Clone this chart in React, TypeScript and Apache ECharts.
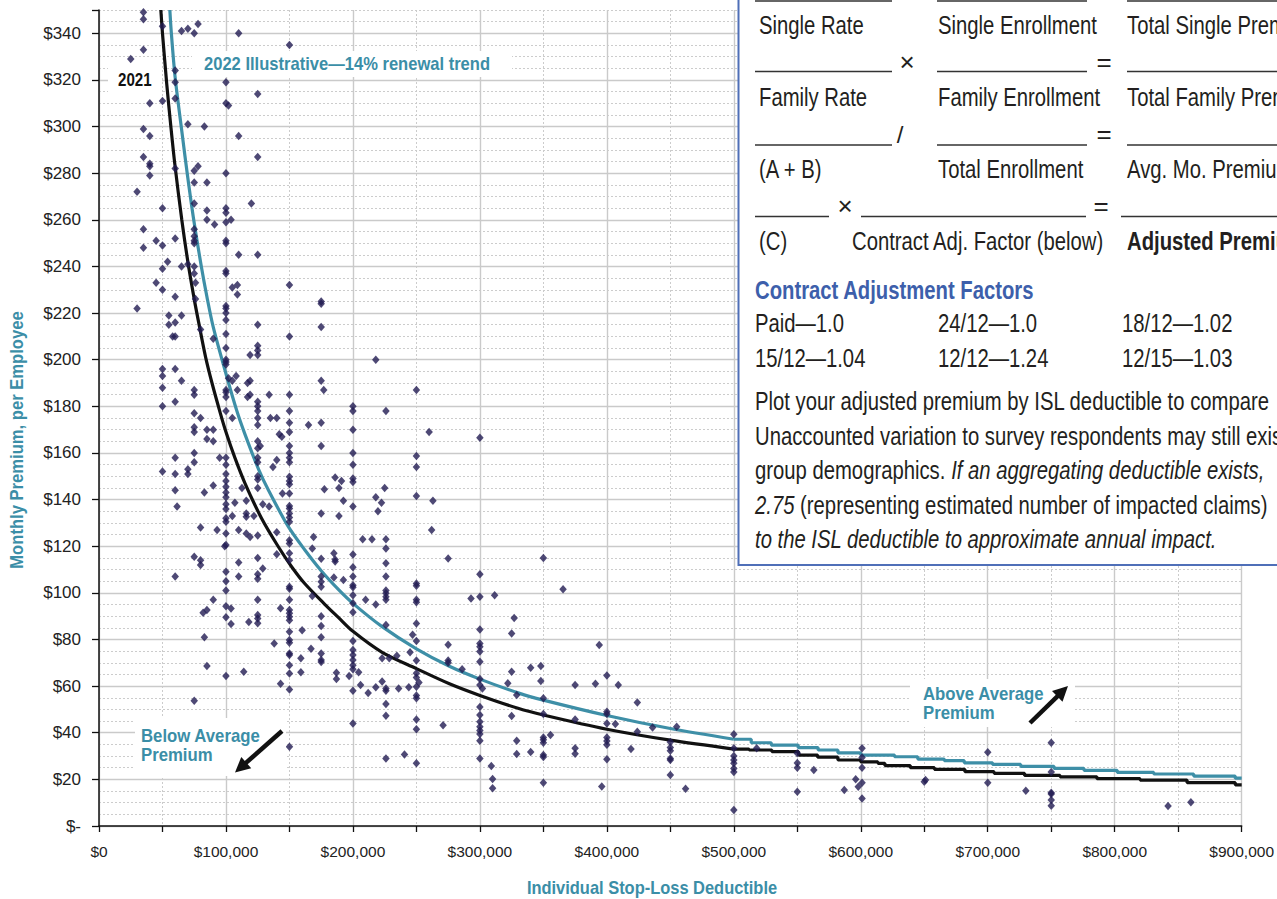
import React, { useEffect, useRef } from 'react';
import * as echarts from 'echarts';

// ---------- data (deductible in $ thousands, premium in $ per employee per month) ----------
// 2021 curve: smooth upper part, then the stair-stepped tail
const ded2021 = [48.7, 50, 53.4, 56.6, 59.7, 65.2, 70, 75, 78.5, 84, 89, 95.6, 100, 107, 115, 128, 141, 152, 162, 178, 188.5, 200, 223, 250, 276, 300, 330, 350, 400, 450, 500];
const prem2021 = [350, 340, 318, 300, 284, 260, 242, 226, 216, 201, 190, 177, 169, 158, 147, 132, 120, 111, 104, 95, 89.5, 83.5, 74.5, 67.5, 61, 56, 50.5, 47.6, 41.5, 36.8, 33];
const dedStep2021 = [500, 512, 530, 551, 566, 582, 600, 613.5, 619, 639, 658, 682, 705, 729, 757, 786, 820, 857, 895, 900];
const premStep2021 = [33, 32.6, 31.9, 30.4, 29.5, 28.3, 27.5, 26.9, 25.9, 25.0, 24.3, 23.3, 22.6, 21.7, 21.1, 20.3, 19.7, 18.6, 17.6, 17.6];

// 2022 illustrative curve (14% trend)
const ded2022 = [55.8, 57, 60, 65.7, 69.7, 74.6, 80.6, 85, 90, 100, 108.6, 115, 125.7, 133.5, 149, 162, 175, 188.5, 200, 223, 250, 276, 300, 330.7, 350, 400, 450, 500];
const prem2022 = [350, 340, 321, 296, 279, 260, 240, 227, 214, 194, 178, 168, 153, 144, 128.5, 118.5, 109.5, 101.5, 95.5, 85.5, 76, 68.5, 63, 57, 54, 47.4, 41.8, 37.2];
const dedStep2022 = [500, 513.7, 529.5, 550.7, 566.4, 582, 600, 626.6, 644.9, 665.8, 681.5, 703.8, 726, 752.2, 775.8, 802, 830.8, 862.2, 894.9, 900];
const premStep2022 = [37.2, 35.7, 34.7, 33.6, 32.6, 31.4, 30.4, 29.7, 28.7, 28.0, 27.1, 26.4, 25.6, 24.7, 23.9, 23.0, 22.3, 21.4, 20.5, 20.5];

const respondents: [number, number][] = [
  [35,349],[35,346],[50,343],[65,341],[70,342],[75,340],[78,344],[110,340],[150,335],[35,333],[25,329],[60,324],[60,319],[100,319],[125,314],[40,310],[50,311],[60,312],[100,310],[102,309],[70,301],[83,300],[35,299],[40,296],[110,296],[35,287],[40,284],[40,283],[125,287],[78,283],[75,281],[60,282],[100,280],[40,279],[75,276],[85,276],[30,272],[75,267],[120,267],[50,265],[85,264],[100,265],[100,263],[85,260],[104,260],[100,259],[91,258],[75,256],[35,256],[45,251],[60,252],[75,253],[75,251],[75,250],[100,251],[100,250],[35,248],[50,249],[54,242],[65,240],[70,241],[75,240],[50,239],[75,237],[100,238],[100,237],[110,245],[125,245],
  [45,233],[50,230],[60,227],[30,222],[76,233],[76,226],[105,231],[109,232],[109,228],[150,232],[175,225],[175,224],[100,223],[100,222],[100,220],[100,217],[55,219],[65,219],[55,215],[60,216],[80,213],[125,215],[175,214],[58,210],[60,210],[90,209],[100,211],[150,210],[100,205],[125,206],[125,204],[125,202],[119,202],[100,200],[100,199],[100,198],[50,196],[50,193],[60,196],[65,191],[108,193],[102,192],[105,191],[119,191],[117,190],[175,191],[177,187],[50,188],[75,187],[75,185],[100,187],[100,186],[100,184],[109,187],[117,184],[119,185],[125,182],[125,180],[134,185],[150,185],[50,180],[60,182],[75,177],[80,175],[100,178],[105,175],[125,178],[125,175],[125,172],[135,175],[140,175],[150,178],[150,173],[165,172],[175,173],[75,171],[75,169],[85,170],[90,170],[142,168],[144,167],[150,169],[85,166],[90,165],[125,165],[127,163],[125,162],[150,163],[175,163],[60,158],[75,160],[75,156],[95,158],[100,158],[100,155],[125,158],[125,156],[140,157],[150,160],[150,158],[150,156],[137,154],
  [50,152],[60,151],[70,153],[70,151],[100,151],[100,148],[100,145.5],[100,143],[100,141],[100,138],[100,136],[100,132],[100,130.5],[100,125.5],[100,120.5],[60,144],[61.5,137],[83,143],[90,146],[112.6,145],[107,138.6],[105,133],[116,139.5],[116,134],[116,132.6],[122,133],[129,138],[134,137],[80,128],[93,127],[110,127],[116,125.5],[119,124],[125,124.6],[140,126],[99,120],[75,115.5],[80,114],[80,112],[110,113],[125,115],[129,110.5],[125,108],[125,106],[60,107],[100,109],[100,105],[100,101],[110,107],[140,116.6],[150,149.8],[150,148],[150,146.6],[150,142.6],[150,137.3],[150,136.2],[150,134],[150,132.3],[150,130.5],[150,122.6],[150,121.2],[150,117],[150,114],[150,102.6],[150,101.8],[143,93.4],[175,134],[175,114.6],[175,107],[175,104.8],[175,102.6],[177.5,144.4],[186,149.5],[169,124],[168,98.7],[168,119],[125,150],[125,148.6],[125,145],[144.5,142.6],
  [75,53.7],[85,68.6],[83,81],[82,91.5],[85,92.6],[90,97],[100,94.3],[104,93.3],[100,89.5],[104,86.6],[100,64.3],[114,66.2],[118,87.5],[125,97],[125,90.5],[125,89],[125,87],[138,78.3],[143,61],[150,97],[150,92.6],[150,91.2],[150,89.7],[150,88.3],[150,83.3],[150,79.8],[150,78.6],[150,74],[150,73.3],[150,69],[150,65.4],[150,58.5],[150,34],[160,84],[159,72],[159,66],[167,76],[175,90],[175,85.8],[175,81],[175,74],[175,71.2],[175,70.3],
  [218,200],[250,187],[200,180],[200,178],[226,178],[200,170],[260,169],[300,166.5],[200,160],[200,155],[250,158.7],[250,154],[191,148],[189,145],[200,149],[200,147.6],[225,145],[218,141],[222.5,138.6],[219.7,135],[250,141.5],[263,139.5],[192.5,139.5],[200,137],[189,133],[262,127],[207.7,123],[215,123],[226,123],[226,119],[185,117],[186,114.3],[186,113.4],[200,116.4],[226,112.7],[275,114.7],[200,111],
  [185,106.6],[192.5,105.5],[200,107],[200,103.3],[200,102.4],[200,99],[200,95.5],[200,91.7],[226,107],[226,101],[226,99.8],[226,98.3],[226,97],[210,97],[218,95],[250,104],[250,103],[250,97],[250,96],[250,86.9],[226,86.2],[247,82],[250,79.3],[200,79.3],[200,75.5],[200,73.3],[200,71.2],[200,69],[200,67.2],[187,65.7],[187,63],[197,64.3],[204.5,66],[223,72],[228.6,72],[234.6,73],[245,74.5],[250,71],[275,77.7],[275,71],[275,70],[286,67.2],[300,84.3],[300,78.3],[300,76.9],[300,74.8],[300,70.5],[293,97.6],[300,98.3],[311.6,99],[300,108],[327,89.2],[325,82.6],[325,66.2],[322,61.2],[329,56.2],[325,47.2],[329,36.6],[329,30.9],[250,65.5],[250,63.7],[252,61.5],[250,59.7],[250,56],[250,54.8],[223,62],[226,59],[226,58],[218,59.5],[206,60.5],[212,57],[236,59],[244,59.5],[226,52.3],[226,47.3],[200,58],[200,44],[250,45.7],[250,41.5],[271,43.2],[300,63],[300,60.5],[302,59],[300,51],[300,47.6],[300,44.7],[300,42.6],[300,41],[300,39.5],[300,36.6],[300,29],[226,29],[240.6,30.7],[250,26.9],[309,25.7],[310,20.2],[310,16.2],
  [350,115],[365.5,101.5],[394,77.6],[340,67.9],[348,68.6],[348,62.2],[375,60.5],[391,61],[400,64.6],[409,60.5],[424,53],[350,54.8],[350,48],[375,45.7],[400,49],[400,48],[400,44],[406.7,43.7],[424,40.4],[355.6,39],[350,38],[350,37],[350,35.7],[340,31.7],[350,30.4],[350,29.6],[375,33.3],[375,31],[400,38],[400,36.5],[400,34.8],[400,28.6],[419,33],[350,18.6],[396,16.9],[436,42.3],[455,42.6],[450,36],[450,33.7],[450,32.3],[450,29],[450,28.3],[450,21.9],[462,16],[500,39.3],[500,33.3],[500,30],[500,28.3],[500,26.9],[500,24.7],[500,23.2],[500,6.9],[518,33.3],
  [550,31.2],[550,27],[550,25],[563,24],[550,14.7],[587,15.4],[601,33.3],[601,29.4],[601,25],[596,20],[601,18.6],[598,16.8],[601,11.8],
  [651,19.7],[650,19],[700,31.6],[700,18.6],[730,15.1],[750,35.7],[750,23.2],[750,14.3],[750,13.7],[750,11.1],[750,8.7],[842,8.6],[860,10.2],
];

// axis ranges / ticks
const X_MAX = 900;
const X_LABEL_STEP = 100;
const X_TICK_STEP = 50;
const Y_MAX = 350;
const Y_LABEL_STEP = 20;
const Y_MINOR_STEP = 5;

// text content
const label2021 = '2021';
const label2022 = '2022 Illustrative\u201414% renewal trend';
const belowLabel = 'Below Average\nPremium';
const aboveLabel = 'Above Average\nPremium';
const yTitle = 'Monthly Premium, per Employee';
const xTitle = 'Individual Stop-Loss Deductible';
const formRow1 = ['Single Rate', 'Single Enrollment', 'Total Single Premium'];
const formRow2 = ['Family Rate', 'Family Enrollment', 'Total Family Premium'];
const formRow3 = ['(A + B)', 'Total Enrollment', 'Avg. Mo. Premium'];
const formRow4 = ['(C)', 'Contract Adj. Factor (below)', 'Adjusted Premium'];
const factorsTitle = 'Contract Adjustment Factors';
const factorsRow1 = ['Paid\u20141.0', '24/12\u20141.0', '18/12\u20141.02'];
const factorsRow2 = ['15/12\u20141.04', '12/12\u20141.24', '12/15\u20141.03'];

// ---------- styling ----------
const SANS = '"Liberation Sans", Arial, sans-serif';
const TEAL = '#3b8ea7';
const LINE_TEAL = '#3e8fa7';
const NAVY = '#221c52';
const INK = '#231f20';
const BLUE = '#3d5fab';
const BOX_BORDER = '#4f6fb8';
const BOX_FONT = 26;
const BOX_SQUEEZE = 0.78;

function fmtMoney(v: number) {
  if (v === 0) return '$0';
  return '$' + Math.round(v * 1000).toLocaleString('en-US');
}

function arrow(x1: number, y1: number, x2: number, y2: number) {
  const dx = x2 - x1, dy = y2 - y1;
  const len = Math.sqrt(dx * dx + dy * dy);
  const ux = dx / len, uy = dy / len;
  const head = 15, half = 7.5;
  const bx = x2 - ux * head, by = y2 - uy * head;
  const nx = -uy, ny = ux;
  return [
    { type: 'line', z: 60, shape: { x1, y1, x2: bx + ux * 2, y2: by + uy * 2 }, style: { stroke: '#111', lineWidth: 4.5 } },
    { type: 'polygon', z: 60, shape: { points: [[x2, y2], [bx + nx * half, by + ny * half], [bx - nx * half, by - ny * half]] }, style: { fill: '#111' } },
  ];
}

function boxText(x: number, y: number, text: string, opts: any = {}) {
  return {
    type: 'text', z: 61, x, y, scaleX: opts.squeeze ?? BOX_SQUEEZE,
    style: {
      text,
      fill: opts.fill || INK,
      fontSize: opts.fontSize || BOX_FONT,
      fontFamily: SANS,
      fontWeight: opts.bold ? 'bold' : 'normal',
      fontStyle: opts.italic ? 'italic' : 'normal',
      textAlign: opts.align || 'left',
      textVerticalAlign: 'middle',
      rich: opts.rich,
    },
  };
}

function rule(x1: number, x2: number, y: number) {
  return { type: 'line', z: 61, shape: { x1, y1: y, x2, y2: y }, style: { stroke: '#333', lineWidth: 1.3 } };
}

function buildGraphics() {
  const g: any[] = [];
  // label backgrounds
  const bg = (x: number, y: number, w: number, h: number) => ({ type: 'rect', z: 50, shape: { x, y, width: w, height: h }, style: { fill: '#fff' } });
  g.push(bg(108, 68, 54, 25));
  g.push(bg(192, 51, 320, 26));
  g.push(bg(135, 718, 151, 58));
  g.push(bg(910, 679, 165, 48));

  const boldLabel = (x: number, y: number, text: string, squeeze: number, fill = TEAL) => ({
    type: 'text', z: 55, x, y, scaleX: squeeze,
    style: { text, fill, fontSize: 18, fontFamily: SANS, fontWeight: 'bold', textVerticalAlign: 'middle', lineHeight: 19 },
  });
  g.push(boldLabel(118, 80, label2021, 0.84, '#111'));
  g.push(boldLabel(204, 64, label2022, 0.92));
  g.push(boldLabel(141, 745.5, belowLabel, 0.93));
  g.push(boldLabel(923, 703.5, aboveLabel, 0.93));
  g.push(...arrow(282, 731, 235, 772.5));
  g.push(...arrow(1030, 723, 1068, 686));

  // axis titles
  g.push({
    type: 'text', z: 55, x: 17, y: 440, rotation: Math.PI / 2, scaleX: 0.95,
    style: { text: yTitle, fill: TEAL, fontSize: 17.5, fontFamily: SANS, fontWeight: 'bold', textAlign: 'center', textVerticalAlign: 'middle' },
  });
  g.push({
    type: 'text', z: 55, x: 652, y: 888, scaleX: 0.94,
    style: { text: xTitle, fill: TEAL, fontSize: 17.5, fontFamily: SANS, fontWeight: 'bold', textAlign: 'center', textVerticalAlign: 'middle' },
  });

  // worksheet box
  g.push({ type: 'rect', z: 58, shape: { x: 738.5, y: -10, width: 600, height: 575 }, style: { fill: '#fff', stroke: BOX_BORDER, lineWidth: 2 } });
  const cols = [759, 938, 1127];
  const ruleSets: [number, number][][] = [
    [[755, 892], [937, 1087], [1127, 1300]],
    [[755, 892], [937, 1087], [1127, 1300]],
    [[755, 892], [937, 1087], [1127, 1300]],
    [[755, 829], [861, 1086], [1121, 1300]],
  ];
  const ruleY = [1, 71.5, 145, 216.5];
  ruleSets.forEach((set, i) => set.forEach(([a, b]) => g.push(rule(a, b, ruleY[i]))));
  g.push(boxText(907, 62, '\u00d7', { align: 'center', fontSize: 26, squeeze: 1 }));
  g.push(boxText(1104, 62, '=', { align: 'center', fontSize: 26, squeeze: 1 }));
  g.push(boxText(900, 134, '/', { align: 'center', fontSize: 24, squeeze: 1 }));
  g.push(boxText(1104, 134, '=', { align: 'center', fontSize: 26, squeeze: 1 }));
  g.push(boxText(845, 206, '\u00d7', { align: 'center', fontSize: 26, squeeze: 1 }));
  g.push(boxText(1101, 206, '=', { align: 'center', fontSize: 26, squeeze: 1 }));

  const rows = [formRow1, formRow2, formRow3];
  const rowY = [25, 97.5, 169.5];
  rows.forEach((r, i) => r.forEach((t, j) => g.push(boxText(cols[j], rowY[i], t))));
  g.push(boxText(759, 241, formRow4[0]));
  g.push(boxText(852, 241, formRow4[1]));
  g.push(boxText(1127, 241, formRow4[2], { bold: true }));

  g.push(boxText(755, 290, factorsTitle, { bold: true, fill: BLUE }));
  const fcols = [755, 938, 1122];
  factorsRow1.forEach((t, j) => g.push(boxText(fcols[j], 323.5, t)));
  factorsRow2.forEach((t, j) => g.push(boxText(fcols[j], 358, t)));

  const it = { fontSize: BOX_FONT, fontFamily: SANS, fontStyle: 'italic', fill: INK };
  const nm = { fontSize: BOX_FONT, fontFamily: SANS, fontStyle: 'normal', fill: INK };
  g.push(boxText(755, 401.5, 'Plot your adjusted premium by ISL deductible to compare'));
  g.push(boxText(755, 436, 'Unaccounted variation to survey respondents may still exist'));
  g.push(boxText(755, 470.5, '{n|group demographics. }{i|If an aggregating deductible exists,}', { rich: { i: it, n: nm } }));
  g.push(boxText(755, 505, '{i|2.75}{n| (representing estimated number of impacted claims)}', { rich: { i: it, n: nm } }));
  g.push(boxText(755, 539.5, 'to the ISL deductible to approximate annual impact.', { italic: true }));
  return g;
}

export default function App() {
  const ref = useRef<HTMLDivElement>(null);
  useEffect(() => {
    document.body.style.margin = '0';
    if (!ref.current) return;
    const chart = echarts.init(ref.current, undefined, { renderer: 'svg' });

    const ySolidColors: string[] = [];
    for (let v = 0; v <= Y_MAX; v += Y_LABEL_STEP) ySolidColors.push('#cacaca');
    ySolidColors.push('rgba(0,0,0,0)');

    const hiddenAxisBase = { axisLine: { show: false }, axisTick: { show: false }, axisLabel: { show: false } };
    const pairs = (xs: number[], ys: number[]) => xs.map((d, i) => [d, ys[i]]);

    chart.setOption({
      animation: false,
      backgroundColor: '#fff',
      grid: { left: 99, right: 32, top: 10, bottom: 73, containLabel: false },
      xAxis: [
        {
          type: 'value', min: 0, max: X_MAX, interval: X_TICK_STEP, z: 5,
          axisLine: { show: true, onZero: false, lineStyle: { color: '#111', width: 1.5 } },
          axisTick: { show: true, length: 6, lineStyle: { color: '#111', width: 1.3 } },
          axisLabel: {
            margin: 17, fontSize: 15.5, color: '#222', fontFamily: SANS,
            formatter: (v: number) => (v % X_LABEL_STEP === 0 ? fmtMoney(v) : ''),
          },
          splitLine: { show: false },
        },
        { type: 'value', min: 0, max: X_MAX, interval: X_TICK_STEP, z: 1, ...hiddenAxisBase, splitLine: { show: true, lineStyle: { color: '#cccccc', width: 1, type: [2, 2] } } },
        { type: 'value', min: 0, max: X_MAX, interval: X_LABEL_STEP, z: 2, ...hiddenAxisBase, splitLine: { show: true, lineStyle: { color: '#cacaca', width: 1.4 } } },
      ],
      yAxis: [
        {
          type: 'value', min: 0, max: Y_MAX, interval: Y_LABEL_STEP, z: 5,
          axisLine: { show: true, lineStyle: { color: '#111', width: 1.5 } },
          axisTick: { show: true, length: 7, lineStyle: { color: '#111', width: 1.3 } },
          axisLabel: {
            margin: 18, fontSize: 17, color: '#222', fontFamily: SANS,
            formatter: (v: number) => (v === 0 ? '$-' : v > 340 ? '' : '$' + v),
          },
          splitLine: { show: false },
        },
        { type: 'value', min: 0, max: Y_MAX, interval: Y_MINOR_STEP, z: 1, ...hiddenAxisBase, splitLine: { show: true, lineStyle: { color: '#cccccc', width: 1, type: [2, 2] } } },
        { type: 'value', min: 0, max: Y_MAX, interval: Y_LABEL_STEP, z: 2, ...hiddenAxisBase, splitLine: { show: true, lineStyle: { color: ySolidColors, width: 1.4 } } },
      ],
      series: [
        {
          type: 'line', name: '2022', z: 3, data: pairs(ded2022, prem2022),
          smooth: 0.3, symbol: 'none',
          lineStyle: { color: LINE_TEAL, width: 3.2 },
        },
        {
          type: 'line', name: '2022 tail', z: 3, data: pairs(dedStep2022, premStep2022),
          step: 'end', symbol: 'none',
          lineStyle: { color: LINE_TEAL, width: 3.2 },
        },
        {
          type: 'line', name: '2021', z: 3, data: pairs(ded2021, prem2021),
          smooth: 0.3, symbol: 'none',
          lineStyle: { color: '#111', width: 3.2 },
        },
        {
          type: 'line', name: '2021 tail', z: 3, data: pairs(dedStep2021, premStep2021),
          step: 'end', symbol: 'none',
          lineStyle: { color: '#111', width: 3.2 },
        },
        {
          type: 'scatter', name: 'Respondents', z: 4,
          data: respondents,
          symbol: 'diamond', symbolSize: [7.5, 8.5],
          itemStyle: { color: NAVY },
        },
      ],
      graphic: buildGraphics(),
    });
    return () => chart.dispose();
  }, []);
  return <div ref={ref} style={{ width: 1277, height: 899 }} />;
}
